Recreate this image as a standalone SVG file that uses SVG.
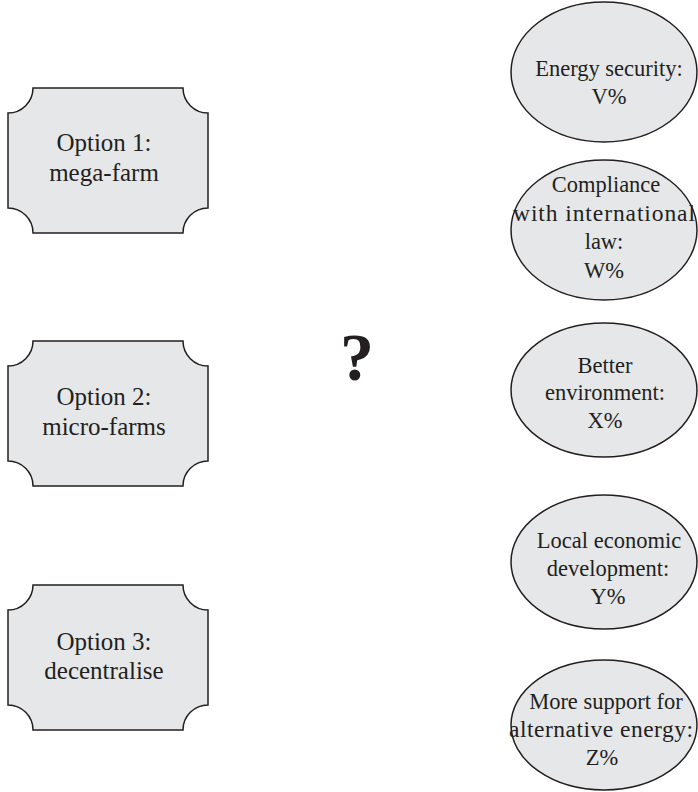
<svg xmlns="http://www.w3.org/2000/svg" width="698" height="792" viewBox="0 0 698 792">
  <style>
    .shape { fill: #e6e7e8; stroke: #231f20; stroke-width: 1.5; }
    .label { font-family: "Liberation Serif", "Times New Roman", serif; fill: #231f20; text-anchor: middle; }
    .opt { font-size: 25px; }
    .goal { font-size: 22.5px; }
    .wide { font-size: 23.5px; }
    .q { font-family: "Liberation Serif", "Times New Roman", serif; font-weight: bold; font-size: 68px; fill: #231f20; text-anchor: middle; }
  </style>
  <defs>
    <!-- option card with concave quarter-circle corners -->
    <path id="card" d="M33,0 H183 A25,25 0 0 0 208,25 V120 A25,25 0 0 0 183,145 H33 A25,25 0 0 0 8,120 V25 A25,25 0 0 0 33,0 Z"/>
  </defs>

  <g id="option1">
    <use href="#card" class="shape" transform="translate(0,88)"/>
    <text class="label opt" x="104" y="151">Option 1:</text>
    <text class="label opt" x="104" y="181">mega-farm</text>
  </g>
  <g id="option2">
    <use href="#card" class="shape" transform="translate(0,341)"/>
    <text class="label opt" x="104" y="405">Option 2:</text>
    <text class="label opt" x="104" y="435">micro-farms</text>
  </g>
  <g id="option3">
    <use href="#card" class="shape" transform="translate(0,585)"/>
    <text class="label opt" x="104" y="650">Option 3:</text>
    <text class="label opt" x="104" y="679">decentralise</text>
  </g>

  <g id="question">
    <text class="q" x="357" y="380">?</text>
  </g>

  <g id="goal-energy-security">
    <ellipse class="shape" cx="604" cy="72" rx="93" ry="70"/>
    <text class="label goal" x="609" y="76">Energy security:</text>
    <text class="label goal" x="609" y="104">V%</text>
  </g>
  <g id="goal-compliance">
    <ellipse class="shape" cx="604" cy="230" rx="93" ry="70"/>
    <text class="label goal" x="606" y="192">Compliance</text>
    <text class="label wide" x="604" y="221" textLength="182" lengthAdjust="spacing">with international</text>
    <text class="label goal" x="604" y="249">law:</text>
    <text class="label goal" x="604" y="278">W%</text>
  </g>
  <g id="goal-environment">
    <ellipse class="shape" cx="604" cy="390" rx="93" ry="67"/>
    <text class="label goal" x="605" y="373">Better</text>
    <text class="label goal" x="605" y="400">environment:</text>
    <text class="label goal" x="605" y="428">X%</text>
  </g>
  <g id="goal-local-economy">
    <ellipse class="shape" cx="604" cy="562" rx="93" ry="67"/>
    <text class="label goal" x="609" y="548">Local economic</text>
    <text class="label goal" x="608" y="576">development:</text>
    <text class="label goal" x="608" y="604">Y%</text>
  </g>
  <g id="goal-alt-energy">
    <ellipse class="shape" cx="604" cy="725" rx="93" ry="65"/>
    <text class="label goal" x="606" y="709">More support for</text>
    <text class="label wide" x="601" y="737" textLength="184" lengthAdjust="spacing">alternative energy:</text>
    <text class="label goal" x="602" y="765">Z%</text>
  </g>

  <g id="connectors"/>
</svg>
